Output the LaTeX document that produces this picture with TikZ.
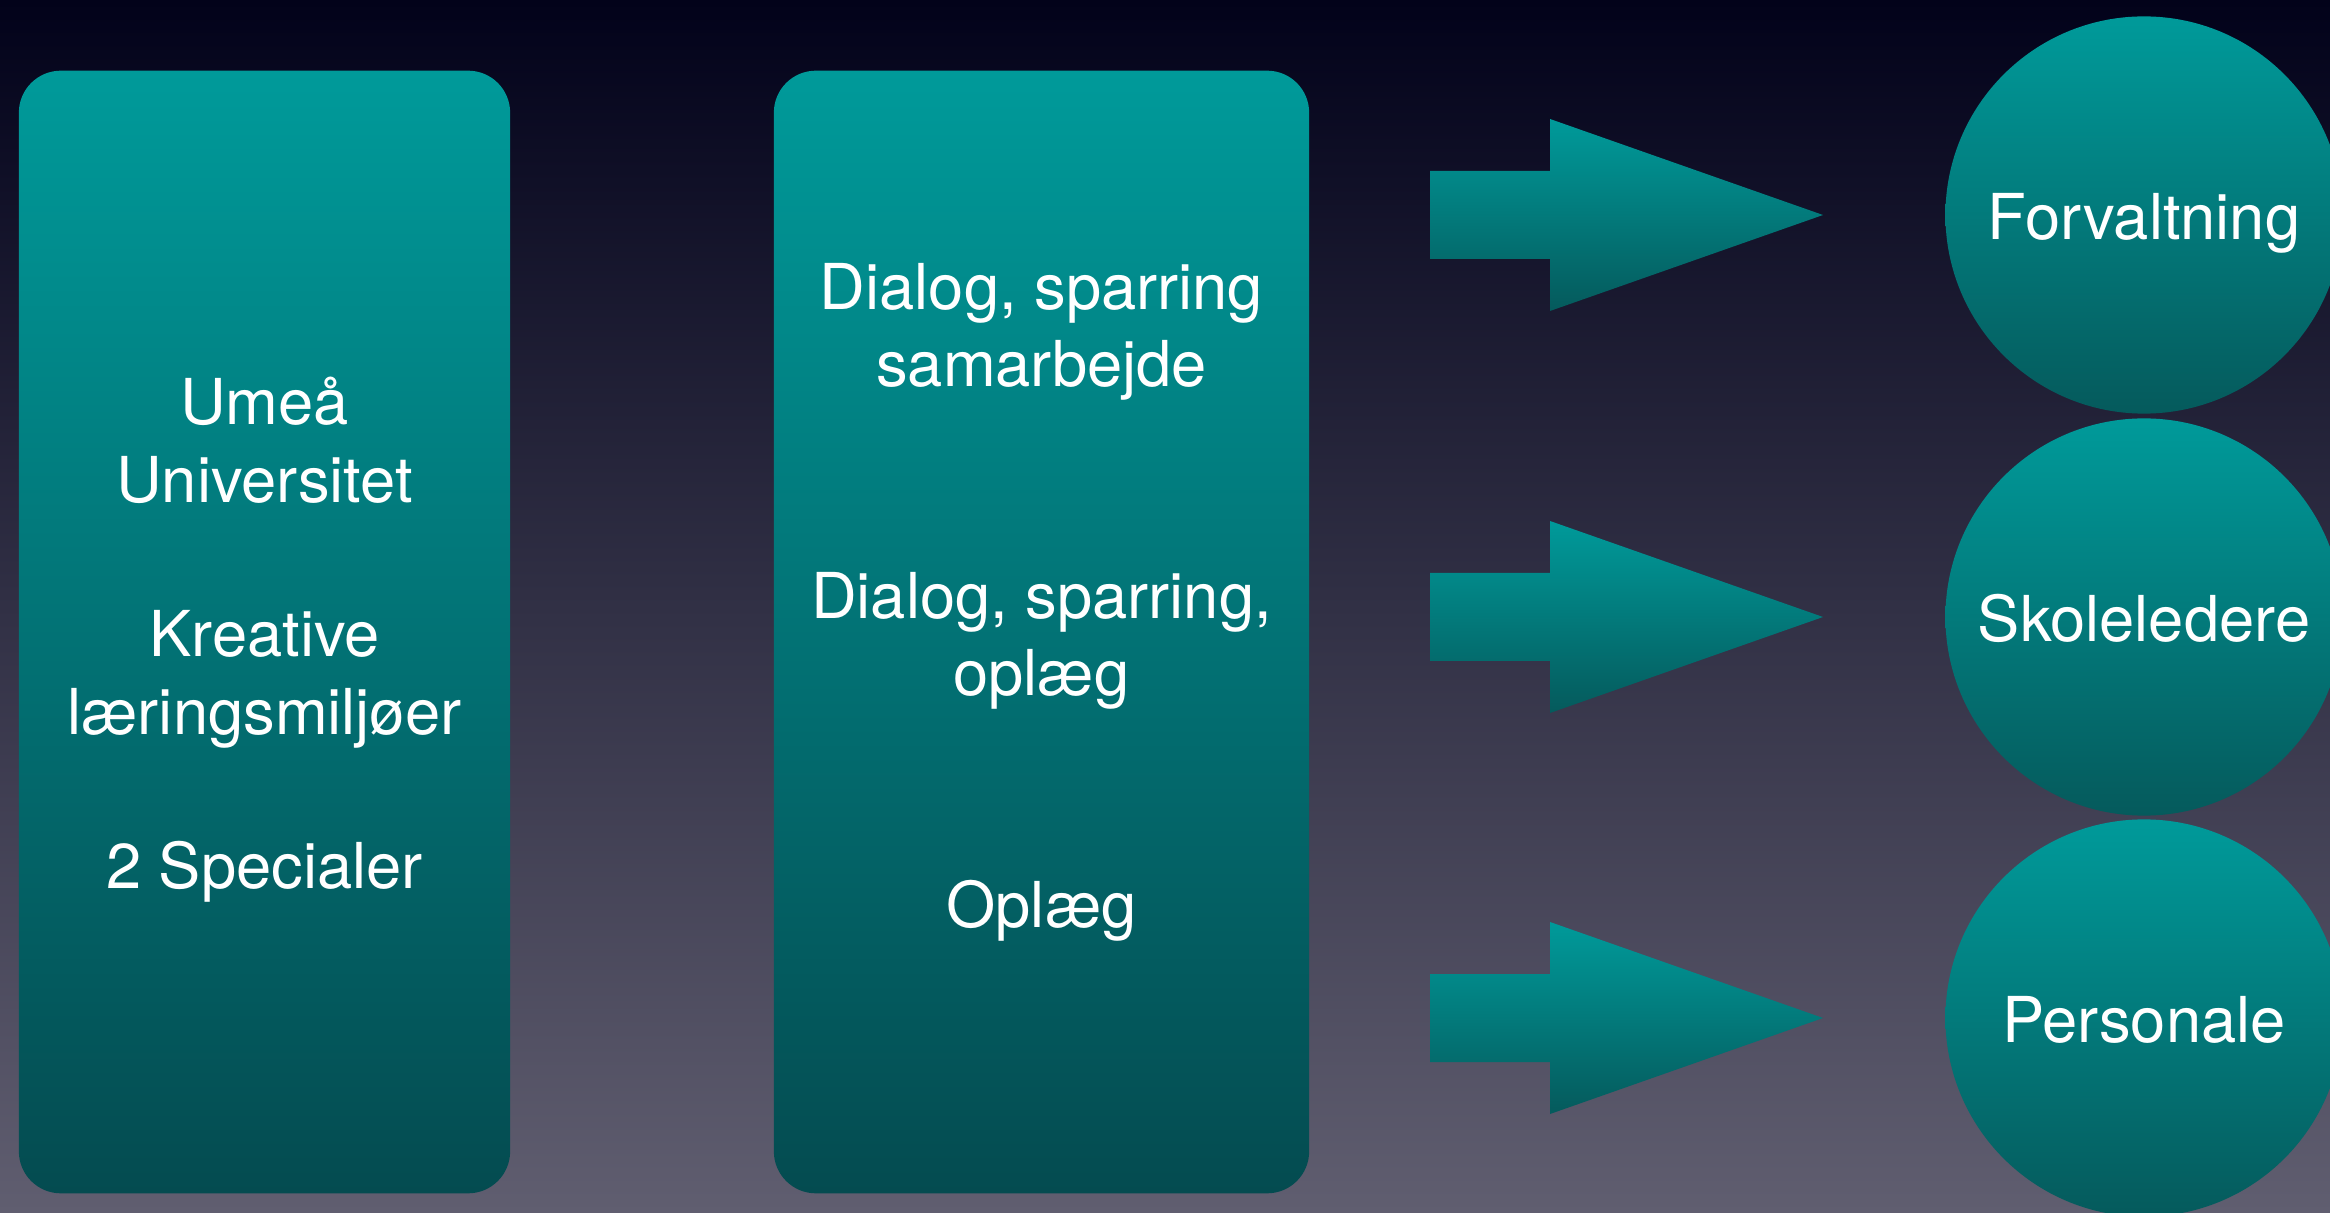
\documentclass[tikz,border=0pt]{standalone}
\usepackage{fontspec}
\setmainfont{TeX Gyre Heros}
\definecolor{bgtop}{HTML}{02021A}
\definecolor{bgmid}{HTML}{2B2A41}
\definecolor{bgbot}{HTML}{605E70}
\definecolor{tealtop}{HTML}{009A9A}
\definecolor{tealbot}{HTML}{044B50}
\definecolor{arrowbot}{HTML}{055A5C}
\tikzset{
	panel/.style={rounded corners=0.42cm, top color=tealtop, bottom color=tealbot, minimum height=11.22cm},
	lettering/.style={text=white, font=\fontsize{18}{22}\selectfont, align=center},
	coltext/.style={lettering, yshift=-0.08cm},
	target/.style={circle, minimum size=3.97cm, top color=tealtop, bottom color=arrowbot, lettering, text height=18pt, text depth=4pt},
}
\begin{document}
\begin{tikzpicture}[x=0.01cm,y=-0.01cm]
			\path[use as bounding box] (0,0) rectangle (2330,1213);
			\clip (0,0) rectangle (2330,1213);
			\shade[top color=bgtop, middle color=bgmid, bottom color=bgbot] (0,0) rectangle (2330,1213);
			% the two columns
			\node[panel, minimum width=4.91cm] (umea) at (264.5,632) {};
			\node[panel, minimum width=5.35cm] (dialog) at (1041.5,632) {};
			\node[coltext] (umeatext) at (umea) {Umeå\\Universitet\\[22pt]Kreative\\læringsmiljøer\\[22pt]2 Specialer};
			\node[coltext] (sparring) at (1041.5,324) {Dialog, sparring\\samarbejde};
			\node[coltext] (oplaeg) at (1041.5,633) {Dialog, sparring,\\oplæg};
			\node[coltext] (oplaegto) at (1041.5,903) {Oplæg};
			% arrows
			\foreach \y in {215,617,1018}
				\shade[top color=tealtop, bottom color=arrowbot] (1430,{\y-44}) -- (1550,{\y-44}) -- (1550,{\y-96}) -- (1823,\y) -- (1550,{\y+96}) -- (1550,{\y+44}) -- (1430,{\y+44}) -- cycle;
			% the three circles
			\node[target] (forvaltning) at (2144,215) {Forvaltning};
			\node[target] (skoleledere) at (2144,617) {Skoleledere};
			\node[target] (personale) at (2144,1018) {Personale};
		\end{tikzpicture}
\end{document}
